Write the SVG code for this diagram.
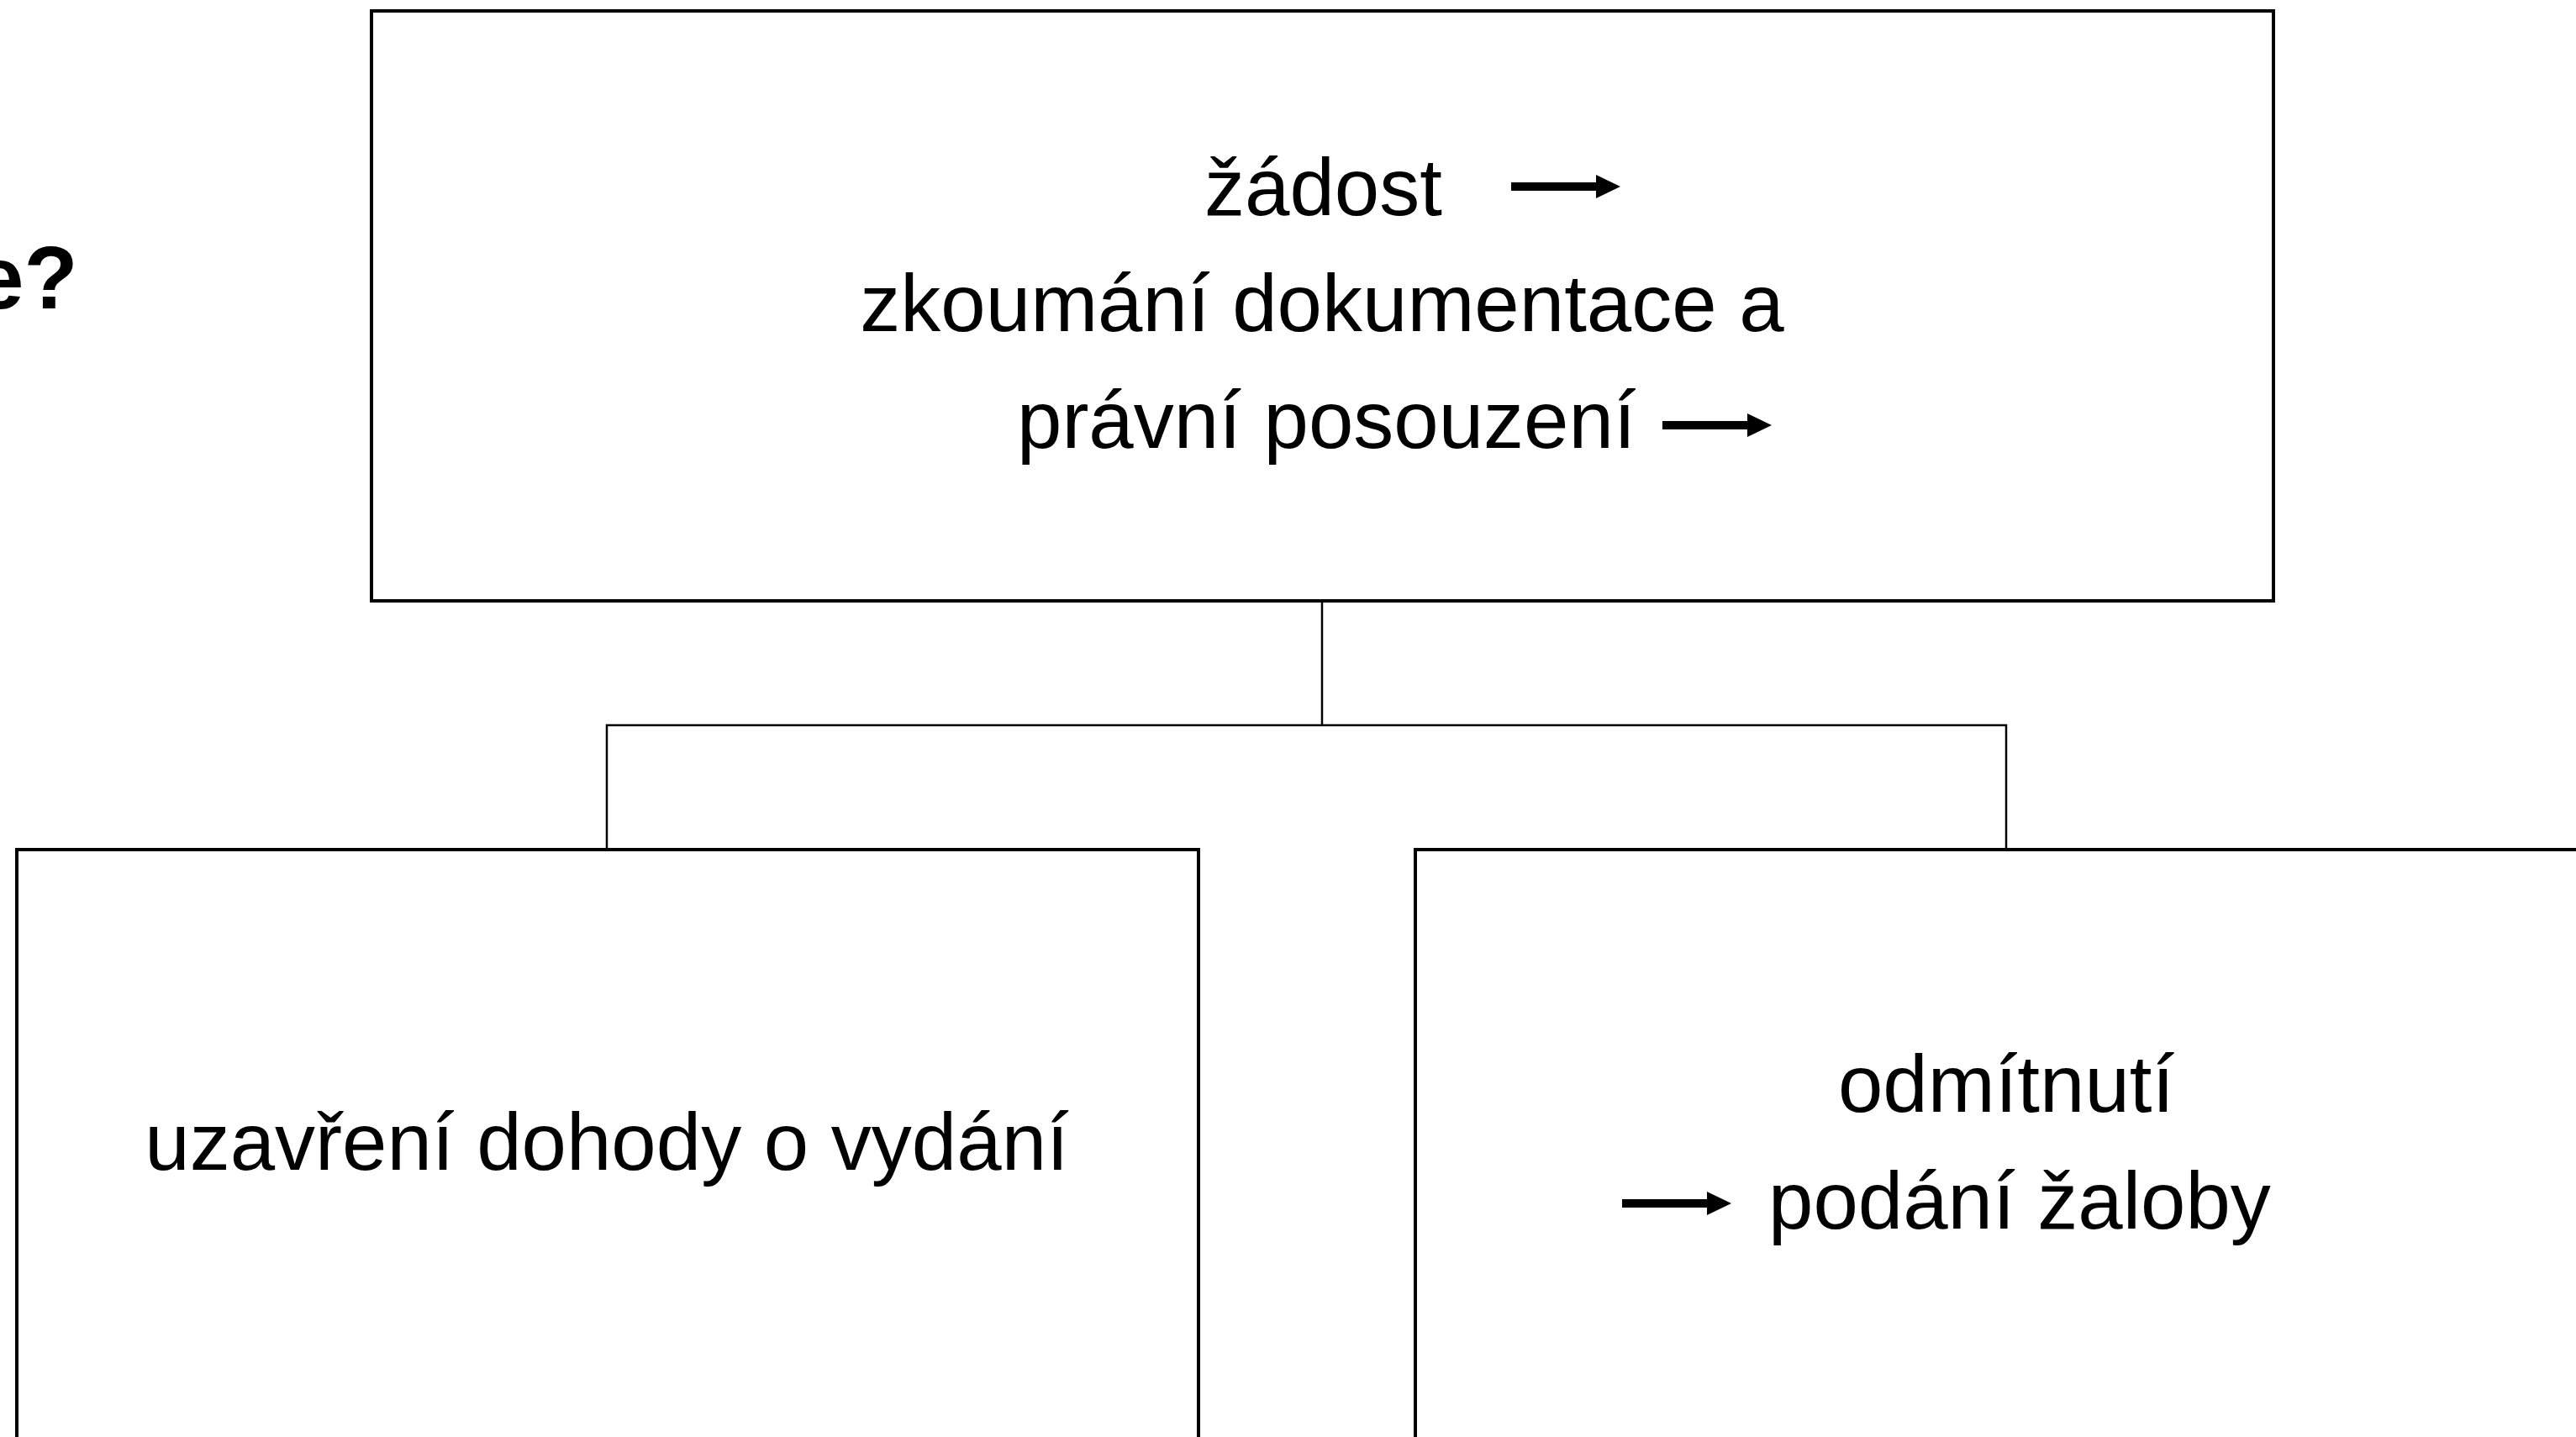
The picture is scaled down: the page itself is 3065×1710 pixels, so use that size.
<svg xmlns="http://www.w3.org/2000/svg" xmlns:xlink="http://www.w3.org/1999/xlink" width="3065" height="1710" viewBox="0 0 3065 1710">
  <style>
    .box { fill: #ffffff; stroke: #000000; stroke-width: 4; }
    .conn { fill: none; stroke: #000000; stroke-width: 2.5; }
    .lbl { font-family: "Liberation Sans", Arial, sans-serif; font-size: 96px; fill: #000000; }
    .title { font-family: "Liberation Sans", Arial, sans-serif; font-size: 105px; font-weight: bold; fill: #000000; }
    .arr { fill: #000000; }
  </style>
  <defs>
    <path id="arrow" class="arr" d="M0,-5 H101 V-14 L130,0 L101,14 V5 H0 Z"/>
  </defs>
  <rect width="3065" height="1710" fill="#ffffff"/>

  <text class="title" x="-30" y="367">e?</text>

  <g id="connectors">
    <path class="conn" d="M1573,715 V863"/>
    <path class="conn" d="M722,1011 V863 H2387 V1011"/>
  </g>

  <g id="node-top">
    <rect class="box" x="442" y="13" width="2263" height="702"/>
    <text class="lbl" x="1433" y="256">žádost</text>
    <use xlink:href="#arrow" x="1798" y="222"/>
    <text class="lbl" x="1573" y="394" text-anchor="middle">zkoumání dokumentace a</text>
    <text class="lbl" x="1210" y="533">právní posouzení</text>
    <use xlink:href="#arrow" x="1978" y="506"/>
  </g>

  <g id="node-left">
    <rect class="box" x="20" y="1011" width="1406" height="760"/>
    <text class="lbl" x="722" y="1392" text-anchor="middle">uzavření dohody o vydání</text>
  </g>

  <g id="node-right">
    <rect class="box" x="1684" y="1011" width="1500" height="760"/>
    <text class="lbl" x="2387" y="1323" text-anchor="middle">odmítnutí</text>
    <use xlink:href="#arrow" x="1930" y="1432"/>
    <text class="lbl" x="2104" y="1462">podání žaloby</text>
  </g>
</svg>
